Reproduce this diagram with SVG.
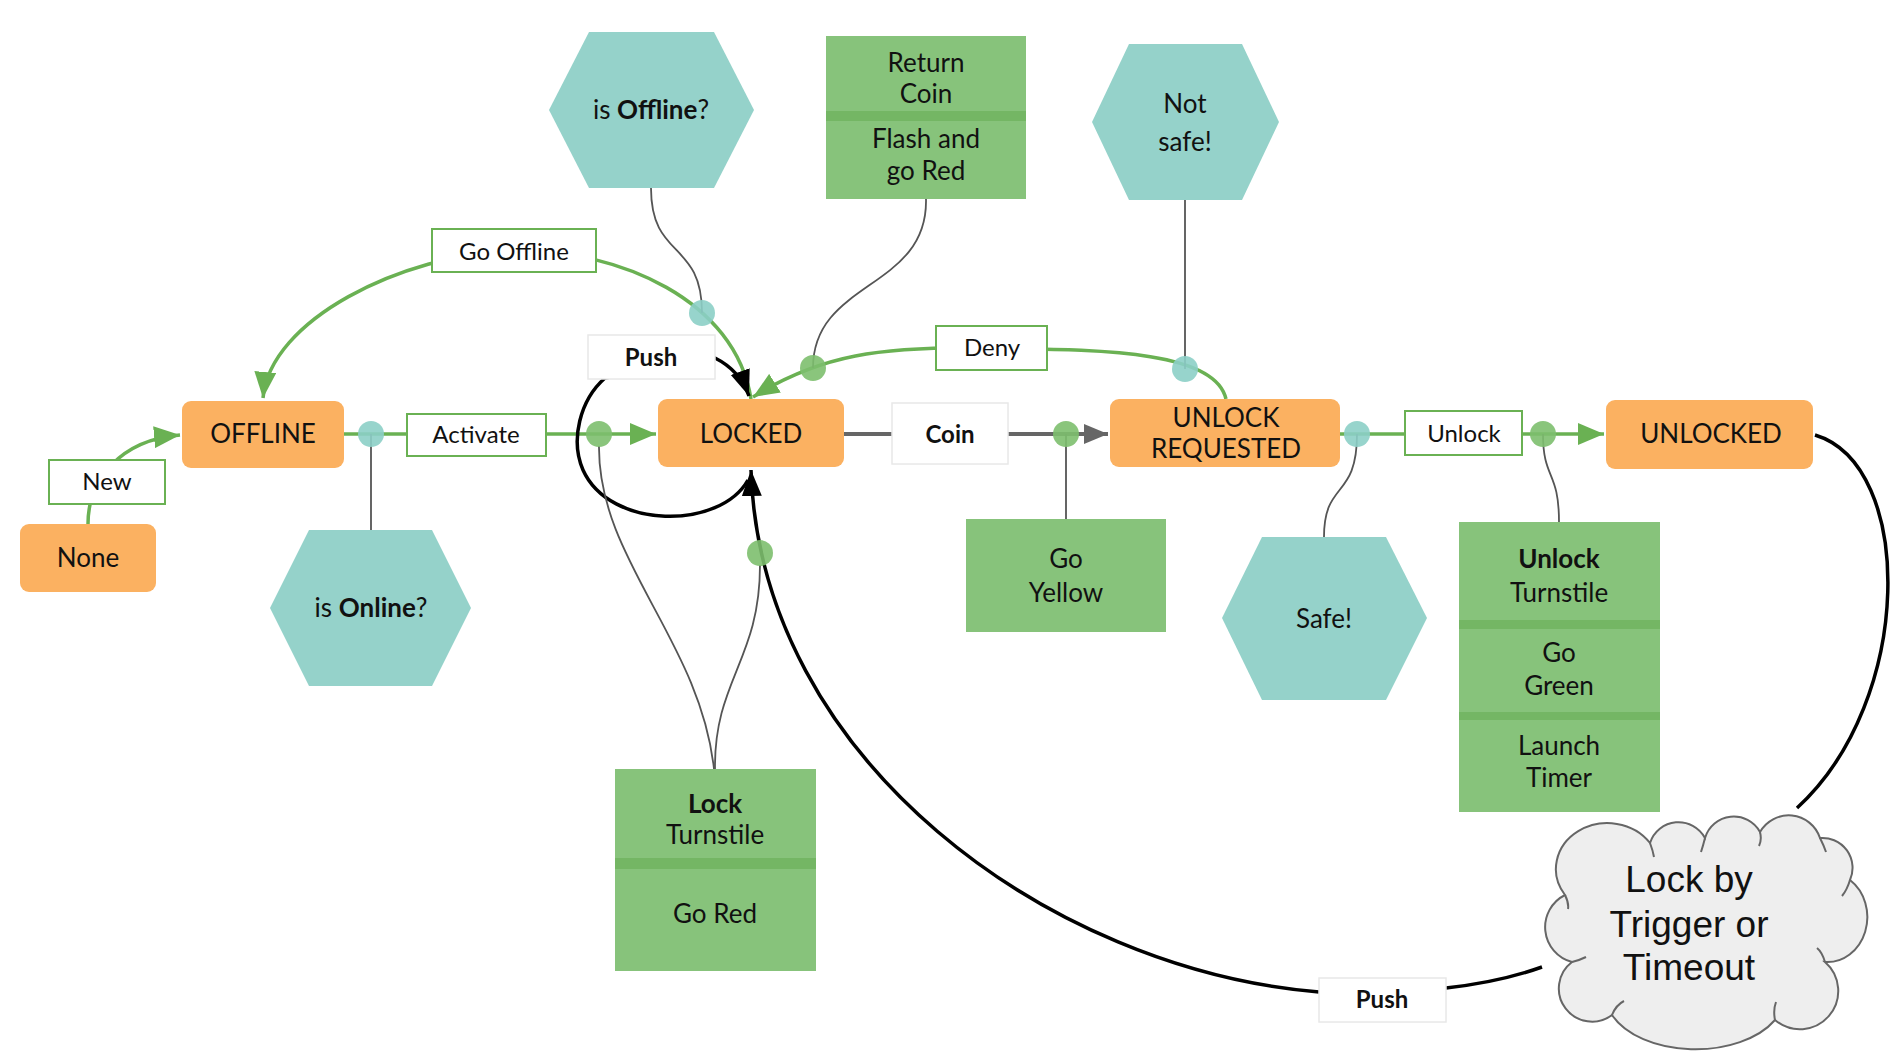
<svg xmlns="http://www.w3.org/2000/svg" width="1904" height="1064" viewBox="0 0 1904 1064">
<style>
.state{fill:#fbb161}
.hex{fill:#95d2ca}
.act{fill:#87c37b}
.div{fill:#74b664}
.t{font-family:Lato,"Open Sans","Liberation Sans",sans-serif;fill:#111;text-anchor:middle}
.ts{font-size:26px}
.tl{font-size:24px}
.b{font-weight:bold}
.lblg{fill:#fff;stroke:#6ab153;stroke-width:2}
.lblw{fill:#fff;stroke:#e8e8e8;stroke-width:1.5}
.gline{fill:none;stroke:#6ab153;stroke-width:3.5}
.kline{fill:none;stroke:#000;stroke-width:3.5}
.grey{fill:none;stroke:#666;stroke-width:4}
.thin{fill:none;stroke:#555;stroke-width:1.8}
.dt{fill:#8ccfc6;opacity:0.9}
.dg{fill:#7dbf6e;opacity:0.9}
.cloudt{font-family:"Liberation Sans",Arial,sans-serif;font-size:37px;fill:#111;text-anchor:middle}
</style>
<defs>
<marker id="ag" markerUnits="userSpaceOnUse" markerWidth="28" markerHeight="22" refX="26" refY="11" orient="auto"><path d="M0,0 L26,11 L0,22 z" fill="#6ab153"/></marker>
<marker id="ak" markerUnits="userSpaceOnUse" markerWidth="28" markerHeight="22" refX="26" refY="11" orient="auto"><path d="M0,1 L26,11 L0,21 z" fill="#000"/></marker>
<marker id="ay" markerUnits="userSpaceOnUse" markerWidth="26" markerHeight="22" refX="24" refY="11" orient="auto"><path d="M0,1 L24,11 L0,21 z" fill="#666"/></marker>
</defs>
<rect width="1904" height="1064" fill="#fff"/>

<g id="connectors">
  <!-- New -->
  <path class="gline" d="M88,524 C88,480 120,440 180,435" marker-end="url(#ag)"/>
  <!-- Activate -->
  <path class="gline" d="M344,434 L656,434" marker-end="url(#ag)"/>
  <!-- Go Offline -->
  <path class="gline" d="M751,399 C735,300 620,250 515,250 C400,255 270,320 263,398" marker-end="url(#ag)"/>
  <!-- Deny -->
  <path class="gline" d="M1226,399 C1215,350 1100,350 990,348 C880,346 820,355 753,397" marker-end="url(#ag)"/>
  <!-- Coin -->
  <path class="grey" d="M844,434 L1108,434" marker-end="url(#ay)"/>
  <!-- Unlock -->
  <path class="gline" d="M1340,434 L1604,434" marker-end="url(#ag)"/>
  <!-- Push self loop -->
  <path class="kline" d="M748,480 C720,530 610,530 583,470 C570,440 580,400 605,378 L715,358 C735,368 744,382 749,396" marker-end="url(#ak)"/>
  <!-- UNLOCKED to cloud -->
  <path class="kline" d="M1815,435 C1915,465 1915,700 1797,808"/>
  <!-- cloud to Push -->
  <path class="kline" d="M1542,967 Q1500,982 1446,988"/>
  <!-- Push to LOCKED -->
  <path class="kline" d="M1319,992 C1050,970 760,760 751,470" marker-end="url(#ak)"/>

  <!-- thin guard/action connectors -->
  <path class="thin" d="M371,434 L371,530"/>
  <path class="thin" d="M651,188 C651,260 702,240 702,313"/>
  <path class="thin" d="M926,199 C928,290 813,280 813,368"/>
  <path class="thin" d="M1185,200 L1185,369"/>
  <path class="thin" d="M1066,434 L1066,519"/>
  <path class="thin" d="M1357,434 C1357,500 1324,480 1324,537"/>
  <path class="thin" d="M1543,434 C1543,480 1559,470 1559,522"/>
  <path class="thin" d="M599,446 C598,560 700,640 714,769"/>
  <path class="thin" d="M760,565 C760,660 714,680 715,769"/>

  <!-- dots -->
  <circle class="dt" cx="371" cy="434" r="13"/>
  <circle class="dg" cx="599" cy="434" r="13"/>
  <circle class="dt" cx="702" cy="313" r="13"/>
  <circle class="dg" cx="813" cy="368" r="13"/>
  <circle class="dt" cx="1185" cy="369" r="13"/>
  <circle class="dg" cx="1066" cy="434" r="13"/>
  <circle class="dt" cx="1357" cy="434" r="13"/>
  <circle class="dg" cx="1543" cy="434" r="13"/>
  <circle class="dg" cx="760" cy="553" r="13"/>

  <!-- labels -->
  <g id="lbl-new"><rect class="lblg" x="49" y="460" width="116" height="44"/><text class="t tl" x="107" y="490">New</text></g>
  <g id="lbl-activate"><rect class="lblg" x="407" y="414" width="139" height="42"/><text class="t tl" x="476" y="443">Activate</text></g>
  <g id="lbl-gooffline"><rect class="lblg" x="432" y="229" width="164" height="43"/><text class="t tl" x="514" y="260">Go Offline</text></g>
  <g id="lbl-deny"><rect class="lblg" x="936" y="326" width="111" height="44"/><text class="t tl" x="992" y="356">Deny</text></g>
  <g id="lbl-unlock"><rect class="lblg" x="1405" y="411" width="117" height="44"/><text class="t tl" x="1464" y="442">Unlock</text></g>
  <g id="lbl-push1"><rect class="lblw" x="588" y="335" width="127" height="44"/><text class="t tl b" x="651" y="366">Push</text></g>
  <g id="lbl-coin"><rect class="lblw" x="892" y="403" width="116" height="61"/><text class="t tl b" x="950" y="443">Coin</text></g>
  <g id="lbl-push2"><rect class="lblw" x="1319" y="978" width="127" height="44"/><text class="t tl b" x="1382" y="1008">Push</text></g>
</g>

<g id="node-none"><rect class="state" x="20" y="524" width="136" height="68" rx="9"/><text class="t ts" x="88" y="567">None</text></g>
<g id="node-offline"><rect class="state" x="182" y="401" width="162" height="67" rx="9"/><text class="t ts" x="263" y="443">OFFLINE</text></g>
<g id="node-locked"><rect class="state" x="658" y="399" width="186" height="68" rx="9"/><text class="t ts" x="751" y="443">LOCKED</text></g>
<g id="node-unlockreq"><rect class="state" x="1110" y="399" width="230" height="68" rx="9"/><text class="t ts" x="1226" y="427">UNLOCK</text><text class="t ts" x="1226" y="458">REQUESTED</text></g>
<g id="node-unlocked"><rect class="state" x="1606" y="400" width="207" height="69" rx="9"/><text class="t ts" x="1711" y="443">UNLOCKED</text></g>

<g id="node-isonline"><polygon class="hex" points="270,608 309,530 432,530 471,608 432,686 309,686"/><text class="t ts" x="371" y="617">is <tspan class="b">Online</tspan>?</text></g>
<g id="node-isoffline"><polygon class="hex" points="549,110 589,32 714,32 754,110 714,188 589,188"/><text class="t ts" x="651" y="119">is <tspan class="b">Offline</tspan>?</text></g>
<g id="node-notsafe"><polygon class="hex" points="1092,122 1129,44 1242,44 1279,122 1242,200 1129,200"/><text class="t ts" x="1185" y="113">Not</text><text class="t ts" x="1185" y="151">safe!</text></g>
<g id="node-safe"><polygon class="hex" points="1222,618 1262,537 1386,537 1427,618 1386,700 1262,700"/><text class="t ts" x="1324" y="628">Safe!</text></g>

<g id="node-returncoin"><rect class="act" x="826" y="36" width="200" height="163"/><rect class="div" x="826" y="111" width="200" height="10"/><text class="t ts" x="926" y="72">Return</text><text class="t ts" x="926" y="103">Coin</text><text class="t ts" x="926" y="148">Flash and</text><text class="t ts" x="926" y="180">go Red</text></g>
<g id="node-goyellow"><rect class="act" x="966" y="519" width="200" height="113"/><text class="t ts" x="1066" y="568">Go</text><text class="t ts" x="1066" y="602">Yellow</text></g>
<g id="node-unlockturnstile"><rect class="act" x="1459" y="522" width="201" height="290"/><rect class="div" x="1459" y="620" width="201" height="9"/><rect class="div" x="1459" y="712" width="201" height="8"/><text class="t ts b" x="1559" y="568">Unlock</text><text class="t ts" x="1559" y="602">Turnstile</text><text class="t ts" x="1559" y="662">Go</text><text class="t ts" x="1559" y="695">Green</text><text class="t ts" x="1559" y="755">Launch</text><text class="t ts" x="1559" y="787">Timer</text></g>
<g id="node-lockturnstile"><rect class="act" x="615" y="769" width="201" height="202"/><rect class="div" x="615" y="858" width="201" height="11"/><text class="t ts b" x="715" y="813">Lock</text><text class="t ts" x="715" y="844">Turnstile</text><text class="t ts" x="715" y="923">Go Red</text></g>

<g id="node-cloud">
  <path d="M1565,895 A45 40 0 0 1 1650,843 A30 30 0 0 1 1705,838 A30 30 0 0 1 1760,832 A33 33 0 0 1 1820,838 A30 30 0 0 1 1850,880 A40 45 0 0 1 1825,962 A32 32 0 0 1 1775,1020 A90 55 0 0 1 1612,1015 A30 30 0 0 1 1572,962 A36 36 0 0 1 1565,895 Z" fill="#eeeeee" stroke="#666" stroke-width="2"/>
  <path d="M1650,843 q3,8 4,14 M1705,838 q-2,8 -4,14 M1760,832 q2,8 -1,14 M1820,838 q4,8 6,14 M1850,880 q-3,10 -8,16 M1825,962 q-3,-10 -8,-14 M1775,1020 q-2,-10 1,-18 M1612,1015 q4,-10 12,-14 M1572,962 q8,-2 14,-5 M1565,895 q4,8 3,14" fill="none" stroke="#666" stroke-width="2"/>
  <text class="cloudt" x="1689" y="892">Lock by</text>
  <text class="cloudt" x="1689" y="937">Trigger or</text>
  <text class="cloudt" x="1689" y="980">Timeout</text>
</g>
</svg>
